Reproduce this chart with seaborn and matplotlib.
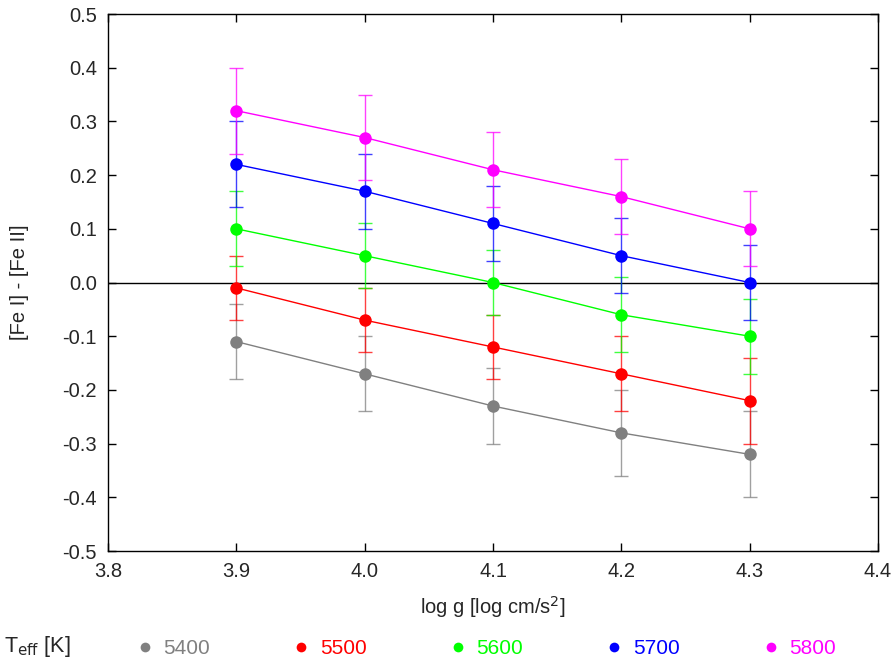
import numpy as np
import pandas as pd
import seaborn as sns
import matplotlib.pyplot as plt

# data
logg = [3.9, 4.0, 4.1, 4.2, 4.3]
teff = ['5400', '5500', '5600', '5700', '5800']
colors = ['#808080', '#ff0000', '#00ff00', '#0000ff', '#ff00ff']

fe_5400 = [-0.11, -0.17, -0.23, -0.28, -0.32]
fe_5500 = [-0.01, -0.07, -0.12, -0.17, -0.22]
fe_5600 = [0.10, 0.05, 0.00, -0.06, -0.10]
fe_5700 = [0.22, 0.17, 0.11, 0.05, 0.00]
fe_5800 = [0.32, 0.27, 0.21, 0.16, 0.10]

err_5400 = [0.07, 0.07, 0.07, 0.08, 0.08]
err_5500 = [0.06, 0.06, 0.06, 0.07, 0.08]
err_5600 = [0.07, 0.06, 0.06, 0.07, 0.07]
err_5700 = [0.08, 0.07, 0.07, 0.07, 0.07]
err_5800 = [0.08, 0.08, 0.07, 0.07, 0.07]

vals = [fe_5400, fe_5500, fe_5600, fe_5700, fe_5800]
errs = [err_5400, err_5500, err_5600, err_5700, err_5800]

rows = []
for t, v, e in zip(teff, vals, errs):
    for x, y, s in zip(logg, v, e):
        rows.append({'logg': x, 'diff': y, 'err': s, 'Teff': t})
df = pd.DataFrame(rows)

sns.set_style('ticks')
plt.rcParams['font.family'] = ['Liberation Sans', 'DejaVu Sans']
plt.rcParams['font.size'] = 14.5

fig = plt.figure(figsize=(8.95, 6.65), dpi=100)
ax = fig.add_axes([0.1207, 0.1714, 0.8603, 0.8075])

ax.axhline(0, color='black', lw=1, zorder=1)

for t, c in zip(teff, colors):
    sub = df[df['Teff'] == t]
    ax.errorbar(sub['logg'], sub['diff'], yerr=sub['err'], fmt='none',
                ecolor=c, elinewidth=1, capsize=5, capthick=1, alpha=0.75, zorder=2)

sns.lineplot(data=df, x='logg', y='diff', hue='Teff', palette=colors,
             marker='o', markersize=9, markeredgewidth=0, lw=1,
             ax=ax, legend=False, zorder=3)

ax.set_xlim(3.8, 4.4)
ax.set_ylim(-0.5, 0.5)
ax.set_xticks(np.arange(3.8, 4.41, 0.1))
ax.set_yticks(np.arange(-0.5, 0.51, 0.1))
ax.set_xticklabels(['%.1f' % v for v in np.arange(3.8, 4.41, 0.1)])
ax.set_yticklabels(['%.1f' % v if abs(v) > 1e-9 else '0.0' for v in np.arange(-0.5, 0.51, 0.1)])
ax.tick_params(direction='in', top=True, right=True, length=6, width=1,
               labelsize=14.5, pad=8, color='black')
for sp in ax.spines.values():
    sp.set_linewidth(1)
    sp.set_color('black')

ax.set_xlabel('log g [log cm/s$^2$]', fontsize=14.5, labelpad=9)
ax.set_ylabel('[Fe I] - [Fe II]', fontsize=14.5, labelpad=24)

# legend row at bottom
fig.text(0.005, 0.028, r'T$_{\rm eff}$ [K]', fontsize=15.5, ha='left', va='center')
handles = [plt.Line2D([], [], ls='none', marker='o', markersize=7,
                      markeredgewidth=0, color=c) for c in colors]
fig.legend(handles, teff, ncol=5, frameon=False, loc='center left',
           bbox_to_anchor=(0.129, 0.025), handlelength=1.0, handletextpad=0.4,
           columnspacing=3.87, labelcolor='markerfacecolor', fontsize=15)

fig.savefig('out.png', dpi=100)
